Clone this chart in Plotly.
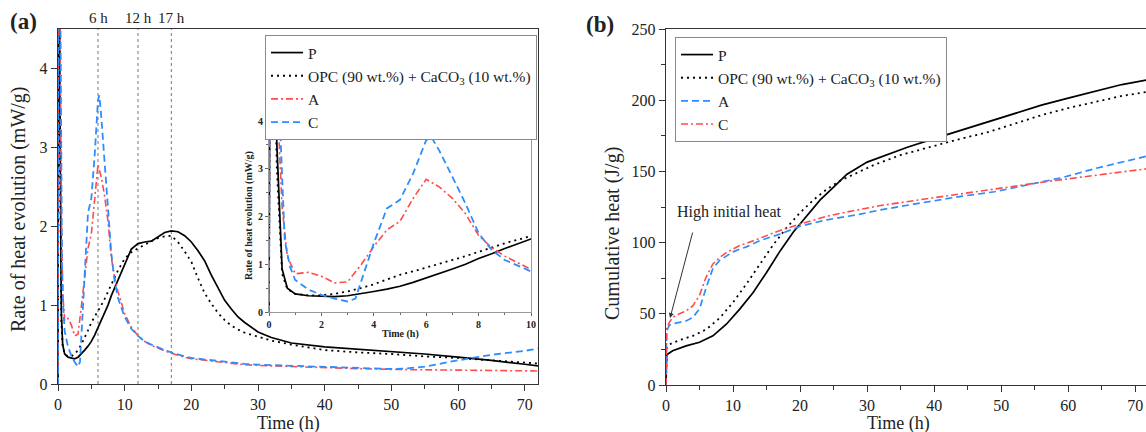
import plotly.graph_objects as go

# ---------------- (a) Rate of heat evolution (mW/g) ----------------
t_P_a = [0, 0.05, 0.3, 0.5, 0.7, 1, 1.5, 2, 2.5, 3, 3.5, 4, 4.5, 5, 5.5, 6, 6.5, 7, 7.5, 8, 8.5, 9, 10,
         11, 12, 13, 14, 15, 16, 17, 18, 19, 20, 21, 22, 23, 24, 25, 26, 27, 28, 30, 32, 35, 40, 45,
         50, 55, 60, 65, 70, 72]
v_P_a = [0, 9.0, 3.5, 0.9, 0.5, 0.38, 0.34, 0.33, 0.32, 0.34, 0.38, 0.43, 0.48, 0.54, 0.62, 0.71, 0.8,
         0.9, 1.0, 1.12, 1.22, 1.33, 1.53, 1.71, 1.78, 1.8, 1.81, 1.87, 1.92, 1.94, 1.93, 1.88, 1.8,
         1.69, 1.56, 1.38, 1.22, 1.06, 0.95, 0.85, 0.78, 0.66, 0.59, 0.52, 0.47, 0.44, 0.41, 0.38,
         0.34, 0.3, 0.25, 0.23]

t_O_a = [0, 0.05, 0.3, 0.5, 0.7, 1, 1.5, 2, 2.5, 3, 3.5, 4, 4.5, 5, 5.5, 6, 6.5, 7, 7.5, 8, 8.5, 9, 10,
         11, 12, 13, 14, 15, 16, 17, 18, 19, 20, 21, 22, 23, 24, 25, 26, 27, 28, 30, 32, 35, 40, 45,
         50, 55, 60, 65, 70, 72]
v_O_a = [0, 9.0, 3.0, 0.8, 0.48, 0.38, 0.35, 0.35, 0.38, 0.43, 0.5, 0.58, 0.68, 0.78, 0.85, 0.93, 1.0,
         1.08, 1.17, 1.26, 1.35, 1.44, 1.59, 1.67, 1.72, 1.77, 1.81, 1.85, 1.87, 1.88, 1.8, 1.68,
         1.55, 1.34, 1.15, 1.02, 0.9, 0.81, 0.74, 0.69, 0.65, 0.6, 0.55, 0.5, 0.43, 0.4, 0.38, 0.35,
         0.33, 0.3, 0.27, 0.26]

t_A_a = [0, 0.05, 0.3, 0.5, 0.7, 1, 1.5, 2, 2.5, 3, 3.5, 4, 4.5, 5, 5.5, 6, 6.5, 7, 7.5, 8, 8.5, 9, 10,
         11, 12, 13, 14, 15, 16, 17, 18, 19, 20, 22, 24, 26, 28, 30, 35, 40, 45, 50, 55, 60, 65, 70, 72]
v_A_a = [0, 9.0, 4.6, 2.2, 1.16, 0.8, 0.83, 0.75, 0.61, 0.63, 0.98, 1.37, 1.72, 1.9, 2.38, 2.78, 2.62,
         2.38, 2.06, 1.6, 1.35, 1.17, 0.89, 0.72, 0.61, 0.54, 0.49, 0.45, 0.42, 0.39, 0.36, 0.34,
         0.32, 0.3, 0.28, 0.26, 0.245, 0.235, 0.22, 0.205, 0.195, 0.185, 0.18, 0.175, 0.17, 0.165,
         0.165]

t_C_a = [0, 0.05, 0.4, 0.6, 0.8, 1, 1.5, 2, 2.5, 3, 3.3, 3.5, 3.8, 4, 4.5, 5, 5.5, 6, 6.2, 6.5, 7, 7.5,
         8, 8.5, 9, 10, 11, 12, 13, 14, 15, 16, 17, 18, 19, 20, 22, 24, 26, 28, 30, 35, 40, 45, 50,
         52, 55, 60, 62, 65, 70, 72]
v_C_a = [0, 9.0, 4.2, 1.5, 0.95, 0.67, 0.47, 0.36, 0.28, 0.22, 0.28, 0.6, 1.09, 1.44, 2.17, 2.35, 2.9,
         3.6, 3.66, 3.38, 2.83, 2.27, 1.65, 1.3, 1.09, 0.85, 0.7, 0.61, 0.54, 0.5, 0.46, 0.43, 0.4,
         0.37, 0.35, 0.33, 0.31, 0.29, 0.27, 0.255, 0.245, 0.23, 0.215, 0.2, 0.19, 0.195, 0.22, 0.3,
         0.33, 0.37, 0.42, 0.45]

marker_times = [6, 12, 17]
marker_labels = ["6 h", "12 h", "17 h"]

# ---------------- (b) Cumulative heat (J/g) ----------------
t_P_b = [0, 0.1, 0.5, 1, 3, 5, 7, 9, 11, 13, 15, 17, 19, 21, 23, 25, 27, 30, 33, 36, 40, 44, 48, 52,
         56, 60, 64, 68, 72]
v_P_b = [0, 21, 22.5, 24, 27.5, 30, 34.5, 42.7, 53.3, 65, 79, 94, 107.5, 119, 130, 139, 148, 156.5,
         162, 167, 173, 179, 185, 190.5, 196.5, 201.5, 206, 211, 214.5]

t_O_b = [0, 0.1, 0.5, 1, 2, 4, 6, 8, 10, 12, 14, 16, 18, 20, 22, 24, 26, 28, 31, 35, 40, 44, 48, 52,
         56, 60, 64, 68, 72]
v_O_b = [0, 26, 28.5, 29.5, 31.5, 34.5, 39, 47, 58, 71, 85, 98.5, 110.5, 121, 130, 137.5, 143.5,
         148, 154.5, 161.5, 168, 173, 177.5, 183.5, 189.5, 194.5, 199, 203, 206]

t_A_b = [0, 0.1, 0.5, 1, 2, 3, 4, 5, 6, 7, 8, 9, 10, 11, 12, 14, 17, 20, 24, 29, 32, 37, 44, 49, 54,
         59, 64, 69, 72]
v_A_b = [0, 38, 42, 43, 44, 45, 47.4, 53.5, 68.5, 82, 87.5, 90.8, 93.5, 95.5, 97, 101.4, 106, 111.5,
         116, 120, 123, 127, 132.5, 135.7, 140.5, 145.5, 152, 157.5, 161]

t_C_b = [0, 0.1, 0.5, 1, 2, 3, 4, 5, 6, 7, 8, 9, 10, 11, 12, 14, 17, 20, 24, 27, 32, 37, 42, 47, 52,
         57, 62, 67, 72]
v_C_b = [0, 40, 44, 47.5, 50, 52, 55.6, 63, 76, 85, 89.5, 93, 95.5, 98, 99.5, 103, 108.5, 113, 118.5,
         121.5, 126, 129.5, 133, 136.5, 139.5, 143, 146, 149, 152]

FONT = "Liberation Serif"
RED = "rgb(255,75,75)"
BLUE = "rgb(45,140,255)"
BLACK = "black"
DOT = "2px,4px"
DASHDOT = "7px,3px,2px,3px"
DASH = "7px,4px"

fig = go.Figure()

# ---- panel (a) main ----
series_a = [
    ("P", t_P_a, v_P_a, BLACK, "solid", 1.7),
    ("OPC (90 wt.%) + CaCO<sub>3</sub> (10 wt.%)", t_O_a, v_O_a, BLACK, DOT, 1.8),
    ("A", t_A_a, v_A_a, RED, DASHDOT, 1.6),
    ("C", t_C_a, v_C_a, BLUE, DASH, 1.8),
]
for name, t, v, c, d, w in series_a:
    fig.add_trace(go.Scatter(x=t, y=v, mode="lines", name=name, xaxis="x", yaxis="y",
                             line=dict(color=c, dash=d, width=w), legend="legend"))
# ---- inset ----
for name, t, v, c, d, w in series_a:
    fig.add_trace(go.Scatter(x=t, y=v, mode="lines", name=name, xaxis="x3", yaxis="y3",
                             line=dict(color=c, dash=d, width=w), showlegend=False))

# ---- panel (b) ----
series_b = [
    ("P", t_P_b, v_P_b, BLACK, "solid", 1.7),
    ("OPC (90 wt.%) + CaCO<sub>3</sub> (10 wt.%)", t_O_b, v_O_b, BLACK, DOT, 1.8),
    ("A", t_A_b, v_A_b, BLUE, DASH, 1.7),
    ("C", t_C_b, v_C_b, RED, DASHDOT, 1.6),
]
for name, t, v, c, d, w in series_b:
    fig.add_trace(go.Scatter(x=t, y=v, mode="lines", name=name, xaxis="x2", yaxis="y2",
                             line=dict(color=c, dash=d, width=w), legend="legend2"))

W, H = 1146, 432
def px(xp):
    return xp / W
def py(yp):
    return (H - yp) / H

axis_common = dict(showline=True, linecolor="#333", linewidth=1.4, ticks="outside", ticklen=6,
                   tickwidth=1.2, tickcolor="#333", showgrid=False, zeroline=False, automargin=False,
                   tickfont=dict(family=FONT, size=16, color="#222"))
inset_common = dict(showline=True, linecolor="#999", linewidth=1.2, mirror=True, ticks="outside",
                    ticklen=3, tickcolor="#666", showgrid=False, zeroline=False, automargin=False,
                    tickfont=dict(family=FONT, size=10, color="#222", weight="bold"))

shapes = []
annotations = []
for mt, ml in zip(marker_times, marker_labels):
    shapes.append(dict(type="line", xref="x", yref="y", x0=mt, x1=mt, y0=0, y1=4.5,
                       line=dict(color="#777", width=1, dash="dot"), layer="below"))
    annotations.append(dict(x=mt, xref="x", y=py(18), yref="paper", text=ml,
                            showarrow=False, yanchor="middle",
                            font=dict(family=FONT, size=15, color="#222")))

def txt(x, y, s, size, angle=0, bold=False):
    return dict(x=px(x), y=py(y), xref="paper", yref="paper", text=s, showarrow=False,
                textangle=angle, xanchor="center", yanchor="middle",
                font=dict(family=FONT, size=size, color="#222",
                          weight="bold" if bold else "normal"))

annotations += [
    txt(23, 21, "(a)", 23, bold=True),
    txt(600, 24, "(b)", 23, bold=True),
    txt(288, 423, "Time (h)", 18),
    txt(899, 423, "Time (h)", 18),
    txt(18, 210, "Rate of heat evolution (mW/g)", 20, angle=-90),
    txt(612, 234, "Cumulative heat (J/g)", 20, angle=-90),
    txt(400, 334, "Time (h)", 10, bold=True),
    txt(249, 216, "Rate of heat evolution (mW/g)", 10, angle=-90, bold=True),
    dict(x=0.6, y=47, xref="x2", yref="y2", ax=23, ay=-87, text="", showarrow=True,
         arrowhead=2, arrowsize=1, arrowwidth=1, arrowcolor="#333"),
    txt(729, 212, "High initial heat", 16),
]

fig.update_layout(
    width=W, height=H, margin=dict(l=0, r=0, t=0, b=0, autoexpand=False),
    paper_bgcolor="white", plot_bgcolor="white",
    font=dict(family=FONT, color="#222"),
    xaxis=dict(domain=[px(58), px(538)], anchor="y", range=[0, 72], tickvals=[0, 10, 20, 30, 40, 50, 60, 70],
               mirror=True, minor=dict(ticks="outside", dtick=5, ticklen=4, tickcolor="#333"),
               **axis_common),
    yaxis=dict(domain=[py(384), py(29)], anchor="x", range=[0, 4.5], tickvals=[0, 1, 2, 3, 4],
               mirror=True, **axis_common),
    xaxis2=dict(domain=[px(666), 1.0], anchor="y2", range=[0, 71.6], tickvals=[0, 10, 20, 30, 40, 50, 60, 70],
                mirror=True, minor=dict(ticks="outside", dtick=5, ticklen=4, tickcolor="#333"),
                **axis_common),
    yaxis2=dict(domain=[py(385), py(29)], anchor="x2", range=[0, 250], tickvals=[0, 50, 100, 150, 200, 250],
                mirror=False, minor=dict(ticks="outside", dtick=25, ticklen=4, tickcolor="#333"),
                **axis_common),
    xaxis3=dict(domain=[px(269), px(531)], anchor="y3", range=[0, 10], tickvals=[0, 2, 4, 6, 8, 10],
                minor=dict(ticks="outside", dtick=1, ticklen=2, tickcolor="#666"), **inset_common),
    yaxis3=dict(domain=[py(312), py(121)], anchor="x3", range=[0, 4], tickvals=[0, 1, 2, 3, 4],
                minor=dict(ticks="outside", dtick=0.5, ticklen=2, tickcolor="#666"), **inset_common),
    legend=dict(x=px(265), y=py(35), xanchor="left", yanchor="top", bgcolor="white",
                bordercolor="#888", borderwidth=1, font=dict(family=FONT, size=15.5, color="#222"),
                itemwidth=32, tracegroupgap=0),
    legend2=dict(x=px(675), y=py(37), xanchor="left", yanchor="top", bgcolor="white",
                 bordercolor="#888", borderwidth=1, font=dict(family=FONT, size=15.5, color="#222"),
                 itemwidth=32, tracegroupgap=0),
    shapes=shapes,
    annotations=annotations,
)

fig.write_html("out.html", config={"displayModeBar": False},
               post_script="document.body.style.margin='0px';document.body.style.overflow='hidden';")
